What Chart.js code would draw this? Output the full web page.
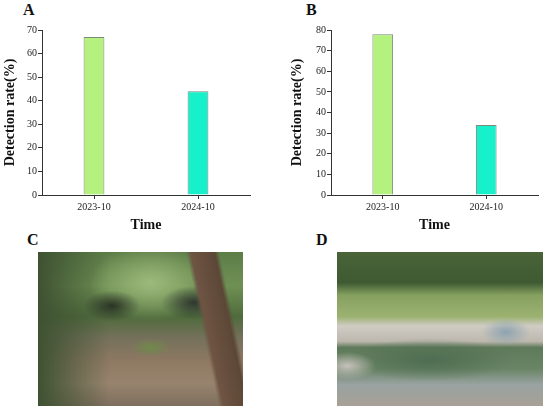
<!DOCTYPE html>
<html>
<head>
<meta charset="utf-8">
<script src="https://cdn.jsdelivr.net/npm/chart.js@4"></script>
<style>
  body { margin: 0; background: #fff; width: 550px; height: 411px; position: relative; overflow: hidden; }
  .box { position: absolute; }
  .tag { position: absolute; font: bold 16px "Liberation Serif", serif; color: #111; }
  .photo { position: absolute; }
  #photoC {
    left: 38px; top: 252px; width: 205px; height: 154px;
    background:
      linear-gradient(78deg, transparent 76%, #6e5443 78%, #5c4737 88%, transparent 90%),
      radial-gradient(ellipse 16% 11% at 76% 33%, #2f3830 0%, transparent 100%),
      radial-gradient(ellipse 14% 10% at 36% 35%, #2a3326 0%, transparent 100%),
      radial-gradient(ellipse 10% 6% at 55% 62%, #6f8a4a 0%, transparent 100%),
      radial-gradient(ellipse 30% 25% at 55% 20%, #9cba7a 0%, transparent 100%),
      linear-gradient(90deg, #3e5232 0%, transparent 35%),
      linear-gradient(180deg, #5d7d48 0%, #6f9054 22%, #4f6b3c 42%, #73705a 55%, #8d7862 70%, #98846e 85%, #7e6e5e 100%);
  }
  #photoD {
    left: 337px; top: 252px; width: 206px; height: 154px;
    background:
      radial-gradient(ellipse 14% 9% at 5% 74%, #c6c1bb 0%, transparent 100%),
      radial-gradient(ellipse 40% 14% at 45% 70%, #4f6d52 0%, transparent 100%),
      radial-gradient(ellipse 12% 9% at 82% 52%, #8ea3b0 0%, transparent 100%),
      linear-gradient(180deg, #4a6438 0%, #3e5a32 20%, #86a060 28%, #9cb271 42%, #d0ccc4 48%, #bdb8ae 58%, #5f7a5a 62%, #6a8566 76%, #98a2a0 86%, #a8a097 100%);
  }
</style>
</head>
<body>
<div class="tag" style="left:23px; top:1px;">A</div>
<div class="tag" style="left:306px; top:1px;">B</div>
<div class="tag" style="left:27px; top:231px;">C</div>
<div class="tag" style="left:316px; top:231px;">D</div>

<div class="box" style="left:0px; top:0px; width:262px; height:234px;"><canvas id="chartA"></canvas></div>
<div class="box" style="left:286px; top:0px; width:264px; height:234px;"><canvas id="chartB"></canvas></div>

<div class="photo" id="photoC"></div>
<div class="photo" id="photoD"></div>

<script>
// Detection rate per survey, panel A and panel B
const periods = ['2023-10', '2024-10'];
const rateA = [67, 44];
const rateB = [78, 34];
const maxA = 70;
const maxB = 80;
const barColors = ['#b4f17f', '#16f0cb'];

const serif = '"Liberation Serif", "Times New Roman", serif';

const makeChart = (canvasId, values, yMax, yWidth, titlePad) => {
  // eslint-disable-next-line no-undef
  return new Chart(document.getElementById(canvasId), {
    type: 'bar',
    data: {
      labels: periods,
      datasets: [{
        data: values,
        backgroundColor: barColors,
        borderColor: '#7d8a78',
        borderWidth: 1,
        barPercentage: 0.2,
        categoryPercentage: 1,
      }],
    },
    options: {
      responsive: true,
      maintainAspectRatio: false,
      animation: false,
      layout: { padding: { left: 0, right: 12, top: 30, bottom: 0 } },
      plugins: { legend: { display: false }, tooltip: { enabled: false } },
      scales: {
        x: {
          offset: true,
          grid: { offset: false, drawOnChartArea: false, tickLength: 4, tickColor: '#333' },
          border: { color: '#333', width: 1 },
          ticks: { color: '#222', font: { family: serif, size: 10 }, padding: 2, maxRotation: 0 },
          title: { display: true, text: 'Time', color: '#111', font: { family: serif, size: 14, weight: 'bold' }, padding: 0 },
          afterFit: (scale) => { scale.height = 39; },
        },
        y: {
          min: 0,
          max: yMax,
          grid: {
            drawOnChartArea: false,
            tickLength: 4,
            tickColor: '#333',
            tickWidth: (ctx) => (ctx.tick && ctx.tick.value % 10 === 0 ? 1 : 0.6),
          },
          border: { color: '#333', width: 1 },
          ticks: {
            stepSize: 5,
            padding: 1,
            color: '#222',
            font: { family: serif, size: 10 },
            callback: (v) => (v % 10 === 0 ? v : ''),
          },
          title: { display: true, text: 'Detection rate(%)', color: '#111', font: { family: serif, size: 14, weight: 'bold' }, padding: titlePad },
          afterFit: (scale) => { scale.width = yWidth; },
        },
      },
    },
  });
};

makeChart('chartA', rateA, maxA, 42, 2);
makeChart('chartB', rateB, maxB, 45, 3);
</script>
</body>
</html>
